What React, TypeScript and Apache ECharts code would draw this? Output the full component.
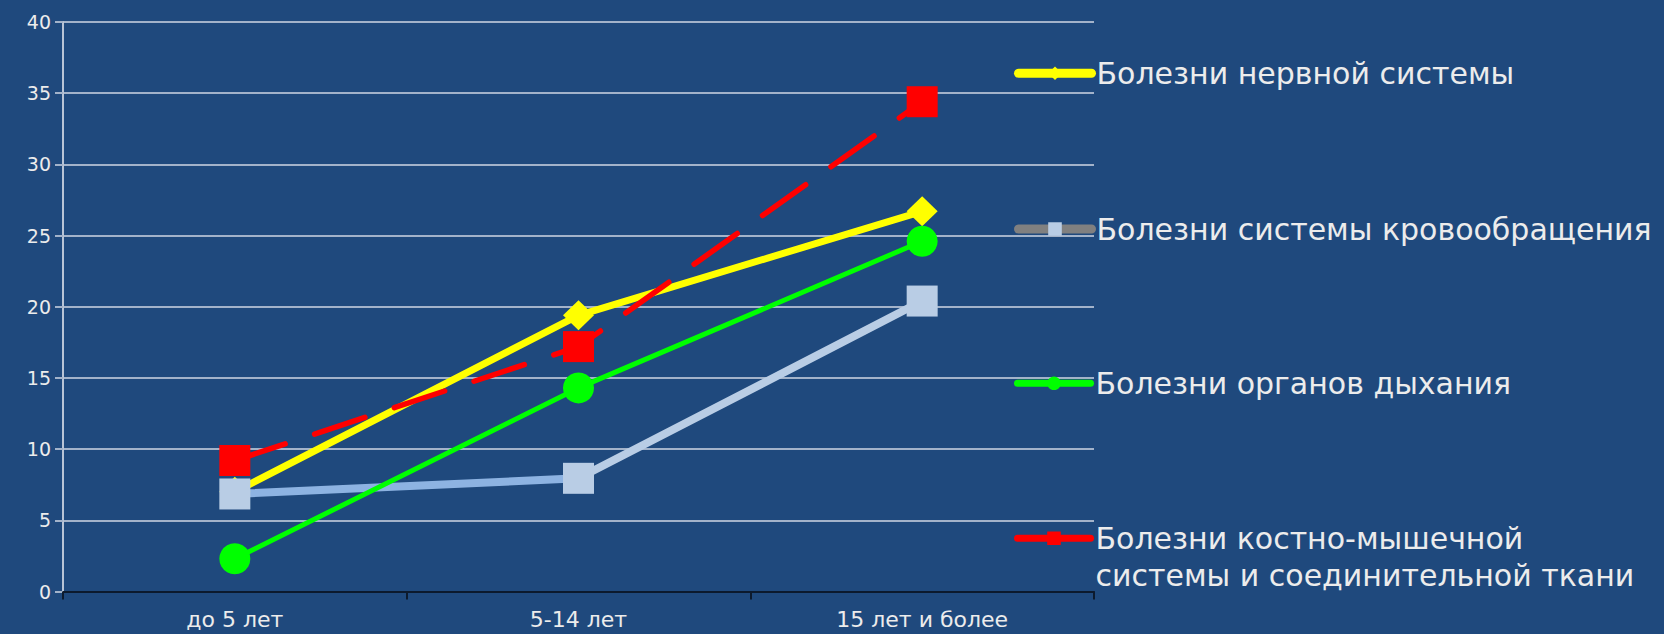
import React, { useEffect, useRef } from "react";
import * as echarts from "echarts";

const categories = ["до 5 лет", "5-14 лет", "15 лет и более"];
const seriesNames = [
  "Болезни нервной системы",
  "Болезни системы кровообращения",
  "Болезни органов дыхания",
  "Болезни костно-мышечной системы и соединительной ткани",
];
const nervous = [7.0, 19.4, 26.7];
const circulatory = [6.85, 7.95, 20.4];
const respiratory = [2.3, 14.3, 24.6];
const musculoskeletal = [9.2, 17.2, 34.4];
const yMin = 0;
const yMax = 40;
const yStep = 5;

const FONT = "DejaVu Sans";
const TEXT = "#ececec";
const GRID = "#a3b3ca";

export default function App() {
  const ref = useRef<HTMLDivElement>(null);
  useEffect(() => {
    if (!ref.current) return;
    const chart = echarts.init(ref.current, undefined, { renderer: "svg" });
    const lh = 37;
    const legendText = {
      color: TEXT,
      fontFamily: FONT,
      fontSize: 30,
      lineHeight: lh,
    };
    const legendCenters = [73.3, 229, 383.3, 538.3];
    const legendItems = [
      { itemStyle: { color: "#ffff00" }, lineStyle: { color: "#ffff00", width: 9 } },
      { itemStyle: { color: "#b9cde5" }, lineStyle: { color: "#808080", width: 9 } },
      { itemStyle: { color: "#00ff00" }, lineStyle: { color: "#00ff00", width: 7 } },
      { itemStyle: { color: "#ff0000" }, lineStyle: { color: "#ff0000", width: 7 } },
    ];
    const legends = seriesNames.map((name, i) => {
      const multi = i === 3;
      return {
        show: true,
        orient: "vertical",
        left: 1014,
        top: multi ? legendCenters[i] - 1.5 * lh : legendCenters[i] - lh / 2,
        padding: 0,
        itemWidth: 73,
        itemHeight: 17,
        selectedMode: false,
        data: [
          {
            name,
            itemStyle: legendItems[i].itemStyle,
            lineStyle: { ...legendItems[i].lineStyle, type: "solid", cap: "round" },
          },
        ],
        formatter: multi
          ? () => "\nБолезни костно-мышечной\nсистемы и соединительной ткани"
          : undefined,
        textStyle: legendText,
      };
    });

    chart.setOption({
      animation: false,
      backgroundColor: "#1F497D",
      textStyle: { fontFamily: FONT },
      grid: { left: 63, right: 570, top: 22, bottom: 42.5, containLabel: false },
      legend: legends,
      xAxis: {
        type: "category",
        data: categories,
        boundaryGap: true,
        axisLine: { show: true, lineStyle: { color: "#0c1a2e", width: 2 } },
        axisTick: { show: true, interval: 0, length: 8, lineStyle: { color: "#0c1a2e", width: 2 } },
        axisLabel: { color: TEXT, fontSize: 22, fontFamily: FONT, margin: 17, interval: 0 },
        splitLine: { show: false },
      },
      yAxis: {
        type: "value",
        min: yMin,
        max: yMax,
        interval: yStep,
        axisLine: { show: true, lineStyle: { color: "#b8c4d6", width: 2 } },
        axisTick: { show: true, length: 8, lineStyle: { color: GRID, width: 2 } },
        axisLabel: { color: TEXT, fontSize: 19, fontFamily: FONT, margin: 12 },
        splitLine: { show: true, lineStyle: { color: GRID, width: 2 } },
      },
      series: [
        {
          name: seriesNames[0],
          type: "line",
          data: nervous,
          symbol: "diamond",
          symbolSize: [31, 30],
          itemStyle: { color: "#ffff00" },
          lineStyle: { color: "#ffff00", width: 7 },
        },
        {
          name: seriesNames[1],
          type: "line",
          data: circulatory,
          symbol: "rect",
          symbolSize: 31,
          itemStyle: { color: "#b9cde5" },
          lineStyle: {
            width: 8,
            color: new echarts.graphic.LinearGradient(0, 0, 1, 0, [
              { offset: 0, color: "#8db3e2" },
              { offset: 0.5, color: "#8db3e2" },
              { offset: 0.5, color: "#b9cde5" },
              { offset: 1, color: "#b9cde5" },
            ]),
          },
        },
        {
          name: seriesNames[2],
          type: "line",
          data: respiratory,
          symbol: "circle",
          symbolSize: 31,
          itemStyle: { color: "#00ff00" },
          lineStyle: { color: "#00ff00", width: 5 },
        },
        {
          name: seriesNames[3],
          type: "line",
          data: musculoskeletal,
          symbol: "rect",
          symbolSize: 31,
          itemStyle: { color: "#ff0000" },
          lineStyle: { color: "#ff0000", width: 5.5, type: [53, 31], cap: "round" },
        },
      ],
    });
    return () => chart.dispose();
  }, []);
  return (
    <div
      ref={ref}
      style={{ position: "absolute", left: 0, top: 0, width: 1664, height: 634 }}
    />
  );
}
